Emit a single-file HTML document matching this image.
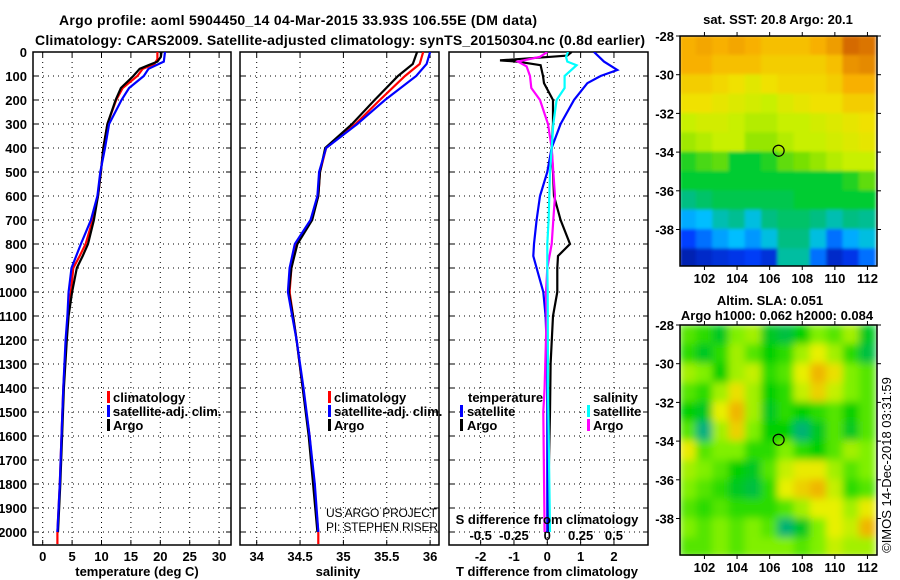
<!DOCTYPE html>
<html><head><meta charset="utf-8"><style>
html,body{margin:0;padding:0;background:#fff;}
svg{display:block;font-family:"Liberation Sans",sans-serif;}
.b{font-weight:bold;font-size:13px;}
.t{font-weight:bold;font-size:14px;}
</style></head><body>
<svg id="fig" width="900" height="580" viewBox="0 0 900 580">
<defs>
<clipPath id="cp1"><rect x="33" y="52" width="198" height="493"/></clipPath>
<clipPath id="cp2"><rect x="240" y="52" width="199" height="493"/></clipPath>
<clipPath id="cp3"><rect x="449" y="52" width="199" height="493"/></clipPath>
<clipPath id="cpm1"><rect x="680" y="36" width="197" height="230"/></clipPath>
<clipPath id="cpm2"><rect x="680" y="325" width="197" height="231"/></clipPath>
<filter id="blur" x="0" y="0" width="1" height="1"><feGaussianBlur stdDeviation="4" edgeMode="duplicate"/></filter>
<filter id="blur2" x="0" y="0" width="1" height="1"><feGaussianBlur stdDeviation="1.5" edgeMode="duplicate"/></filter>
</defs>
<text class="t" x="298" y="25" text-anchor="middle" textLength="478">Argo profile: aoml 5904450_14 04-Mar-2015 33.93S 106.55E (DM data)</text>
<text class="t" x="340" y="45" text-anchor="middle" textLength="610">Climatology: CARS2009. Satellite-adjusted climatology: synTS_20150304.nc (0.8d earlier)</text>
<g id="g1"></g>
<g id="g2"></g>
<g id="g3"></g>
<g id="m1"></g>
<g id="m2"></g>

<text class="b" x="137" y="576" text-anchor="middle">temperature (deg C)</text>
<text class="b" x="338" y="576" text-anchor="middle">salinity</text>
<text class="b" x="547" y="576" text-anchor="middle">T difference from climatology</text>
<text class="b" x="547" y="524" text-anchor="middle">S difference from climatology</text>

<g>
<rect x="107" y="391" width="3" height="12" fill="#f00"/><text class="b" x="113" y="402">climatology</text>
<rect x="107" y="405" width="3" height="12" fill="#00f"/><text class="b" x="113" y="416">satellite-adj. clim.</text>
<rect x="107" y="419" width="3" height="12" fill="#000"/><text class="b" x="113" y="430">Argo</text>
</g>
<g>
<rect x="328" y="391" width="3" height="12" fill="#f00"/><text class="b" x="334" y="402">climatology</text>
<rect x="328" y="405" width="3" height="12" fill="#00f"/><text class="b" x="334" y="416">satellite-adj. clim.</text>
<rect x="328" y="419" width="3" height="12" fill="#000"/><text class="b" x="334" y="430">Argo</text>
</g>
<g font-size="12">
<text x="326" y="517" textLength="111">US ARGO PROJECT</text><text x="326" y="531" textLength="112">PI: STEPHEN RISER</text>
</g>
<g>
<text class="b" x="468" y="402">temperature</text>
<rect x="460" y="405" width="3" height="12" fill="#00f"/><text class="b" x="467" y="416">satellite</text>
<rect x="460" y="419" width="3" height="12" fill="#000"/><text class="b" x="467" y="430">Argo</text>
<text class="b" x="593" y="402">salinity</text>
<rect x="587" y="405" width="3" height="12" fill="#0ff"/><text class="b" x="593" y="416">satellite</text>
<rect x="587" y="419" width="3" height="12" fill="#f0f"/><text class="b" x="593" y="430">Argo</text>
</g>
<text class="b" x="778" y="24" text-anchor="middle">sat. SST: 20.8 Argo: 20.1</text>
<text class="b" x="770" y="305" text-anchor="middle">Altim. SLA: 0.051</text>
<text class="b" x="777" y="320" text-anchor="middle">Argo h1000: 0.062 h2000: 0.084</text>
<text x="0" y="0" font-size="13" text-anchor="middle" transform="translate(891,465) rotate(-90)">©IMOS 14-Dec-2018 03:31:59</text>
</svg>
<script>
const NS='http://www.w3.org/2000/svg';
// ---- data ----
const depthTicks=[0,100,200,300,400,500,600,700,800,900,1000,1100,1200,1300,1400,1500,1600,1700,1800,1900,2000];
const tempTicks=[0,5,10,15,20,25,30];
const salTicks=[34,34.5,35,35.5,36];
const salTickLabels=['34','34.5','35','35.5','36'];
const tdiffTicks=[-2,-1,0,1,2];
const sdiffTicks=[-0.5,-0.25,0,0.25,0.5];
const sdiffTickLabels=['-0.5','-0.25','0','0.25','0.5'];

const tArgoDepth=[0,20,40,55,70,100,150,200,300,400,500,600,700,800,850,900,1000,1100,1200,1400,1600,1800,2000];
const tArgo=[20.2,20.1,19.5,18,16.5,15.4,13.3,12.4,11,10.3,9.9,9.4,8.7,7.7,6.8,5.8,5.0,4.4,4.1,3.6,3.3,3.0,2.6];
const tClimDepth=[0,30,50,70,100,150,200,300,400,500,600,700,800,850,900,1000,1100,1200,1400,1600,1800,2000,2050];
const tClim=[19.5,19.5,19.0,17,16.1,13.6,12.5,11,10.3,9.9,9.4,8.5,7.3,6.3,5.2,4.8,4.3,4.0,3.5,3.2,2.9,2.5,2.5];
const tSatDepth=[0,40,70,100,150,200,300,400,500,600,700,800,900,1000,1100,1200,1400,1600,1800,2000];
const tSat=[20.8,20.6,18,17.2,14.7,13.4,11.3,10.6,9.8,9.3,8.2,6.5,4.9,4.4,4.2,3.9,3.5,3.2,2.9,2.5];

const sArgoDepth=[0,50,100,200,300,400,500,600,700,800,900,1000,1100,1200,1400,1600,1800,2000];
const sArgo=[35.85,35.8,35.63,35.36,35.1,34.79,34.73,34.71,34.64,34.47,34.4,34.37,34.42,34.46,34.53,34.6,34.65,34.7];
const sClimDepth=[0,50,100,200,300,400,500,600,700,800,900,1000,1100,1200,1400,1600,1800,2000,2050];
const sClim=[35.92,35.88,35.71,35.42,35.14,34.8,34.73,34.71,34.63,34.46,34.4,34.38,34.42,34.46,34.53,34.61,34.66,34.71,34.71];
const sSatDepth=[0,50,100,200,300,400,500,600,700,800,900,1000,1100,1200,1400,1600,1800,2000];
const sSat=[36.0,35.96,35.84,35.48,35.16,34.8,34.72,34.7,34.62,34.44,34.38,34.36,34.41,34.46,34.54,34.61,34.67,34.71];

const dDepthSatT=[0,40,75,100,130,200,300,400,500,600,700,800,850,900,1000,1100,1300,1600,2000];
const dSatT=[1.4,1.7,2.1,1.6,1.2,0.8,0.4,0.13,0,-0.22,-0.32,-0.4,-0.42,-0.32,-0.12,-0.05,0,0,0];
const dDepthArgoT=[0,15,20,35,40,55,100,130,200,300,400,500,600,700,800,850,900,1000,1100,1300,1500,1700,2000];
const dArgoT=[0.73,0.6,0.1,-1.42,-0.9,-0.2,-0.13,-0.1,0.17,0.17,0.13,0.17,0.2,0.4,0.68,0.32,0.3,0.3,0.17,0.1,0.08,0.05,0.02];
const dDepthArgoS=[0,20,40,60,100,150,200,300,400,500,600,700,800,900,1000,1100,1400,1500,2000];
const dArgoS=[0,-0.055,-0.22,-0.155,-0.13,-0.12,-0.055,0.005,0.033,0.045,0.058,0.045,0.033,0,-0.01,-0.005,-0.02,-0.03,-0.02];
const dDepthSatS=[0,20,40,55,100,150,200,300,400,500,600,700,800,900,1000,1400,2000];
const dSatS=[0.155,0.14,0.15,0.22,0.13,0.13,0.07,0.045,0.033,0.02,0.015,0.01,0,0,0.003,0.005,0.02];

const mapLatTicks=[-28,-30,-32,-34,-36,-38];
const mapLonTicks=[102,104,106,108,110,112];
const sstGrid=[
[0.78,0.8,0.78,0.8,0.78,0.75,0.75,0.75,0.78,0.82,0.92,0.9],
[0.78,0.78,0.75,0.75,0.75,0.72,0.72,0.72,0.72,0.75,0.84,0.86],
[0.72,0.72,0.7,0.68,0.65,0.68,0.7,0.7,0.7,0.72,0.78,0.78],
[0.68,0.68,0.66,0.64,0.62,0.6,0.64,0.66,0.68,0.68,0.72,0.72],
[0.6,0.62,0.62,0.6,0.58,0.58,0.6,0.6,0.62,0.64,0.66,0.68],
[0.56,0.58,0.6,0.6,0.55,0.55,0.58,0.6,0.6,0.62,0.64,0.66],
[0.45,0.48,0.5,0.42,0.42,0.45,0.5,0.52,0.55,0.58,0.6,0.6],
[0.42,0.42,0.42,0.42,0.42,0.42,0.42,0.42,0.42,0.42,0.45,0.5],
[0.36,0.38,0.4,0.4,0.4,0.4,0.4,0.42,0.42,0.42,0.42,0.42],
[0.26,0.28,0.33,0.35,0.3,0.36,0.38,0.38,0.36,0.33,0.36,0.35],
[0.15,0.2,0.25,0.28,0.24,0.3,0.36,0.36,0.3,0.2,0.26,0.3],
[0.05,0.08,0.1,0.12,0.14,0.1,0.34,0.34,0.2,0.08,0.12,0.2]];
const slaGrid=[
[.5,.45,.35,.55,.6,.35,.3,.4,.55,.5,.6,.35],
[.45,.35,.45,.6,.5,.4,.45,.6,.7,.6,.45,.3],
[.6,.55,.4,.6,.65,.45,.5,.7,.88,.75,.55,.5],
[.5,.45,.6,.75,.6,.4,.45,.65,.8,.65,.55,.5],
[.4,.35,.7,.88,.6,.35,.45,.4,.45,.5,.4,.5],
[.5,.2,.6,.8,.55,.4,.4,.22,.35,.5,.35,.5],
[.72,.5,.55,.55,.45,.45,.55,.45,.4,.5,.6,.55],
[.6,.55,.5,.4,.35,.5,.65,.72,.72,.6,.5,.55],
[.55,.5,.45,.35,.3,.45,.7,.8,.88,.65,.45,.5],
[.5,.45,.5,.45,.45,.45,.5,.6,.7,.7,.6,.72],
[.55,.5,.55,.5,.55,.5,.22,.35,.55,.7,.65,.88],
[.5,.5,.55,.5,.55,.55,.55,.5,.55,.65,.6,.6]];
const argoLon=106.55, argoLat=-33.93;

// ---- helpers ----
function mk(tag,attrs,parent){const e=document.createElementNS(NS,tag);for(const k in attrs)e.setAttribute(k,attrs[k]);parent.appendChild(e);return e;}
const Y0=52, PXM=0.24;
const yD=d=>Y0+d*PXM;
const xT=v=>42.7+5.88*v;
const xS=v=>256.7+86.7*(v-34);
const xDT=v=>547.3+33.33*v;
const xDS=v=>547.3+133.3*v;

function panel(g,x0,x1,xs,ticks,labels,clip,showDepth){
  for(const d of depthTicks){if(d===0)continue;
    const l=mk('line',{x1:x0,x2:x1,y1:yD(d),y2:yD(d),stroke:'#000','stroke-dasharray':'1,4','stroke-width':1},g);
    
    mk('line',{x1:x0,x2:x0+5,y1:yD(d),y2:yD(d),stroke:'#000'},g);
    mk('line',{x1:x1-5,x2:x1,y1:yD(d),y2:yD(d),stroke:'#000'},g);
  }
  ticks.forEach((t,i)=>{const x=xs(t);
    const l=mk('line',{x1:x,x2:x,y1:Y0,y2:545,stroke:'#000','stroke-dasharray':'1,4'},g);
    
    mk('line',{x1:x,x2:x,y1:Y0,y2:Y0+5,stroke:'#000'},g);
    mk('line',{x1:x,x2:x,y1:540,y2:545,stroke:'#000'},g);
    const tx=mk('text',{x:x,y:561,'text-anchor':'middle',class:'b'},g);tx.textContent=labels[i];
    
  });
  if(showDepth){for(const d of depthTicks){const tx=mk('text',{x:27,y:yD(d)+5,'text-anchor':'end',class:'b'},g);tx.textContent=d;
    }}
  const fr=mk('rect',{x:x0,y:Y0,width:x1-x0,height:545-Y0,fill:'none',stroke:'#000','stroke-width':1.5},g);
  
}
function line(g,xs,vals,deps,color,clip,name){
  const pts=vals.map((v,i)=>xs(v).toFixed(1)+','+yD(deps[i]).toFixed(1)).join(' ');
  const p=mk('polyline',{points:pts,fill:'none',stroke:color,'stroke-width':2.2,'clip-path':'url(#'+clip+')'},g);
  
  
}
const g1=document.getElementById('g1'),g2=document.getElementById('g2'),g3=document.getElementById('g3');
panel(g1,33,231,xT,tempTicks,tempTicks.map(String),'cp1',true);
line(g1,xT,tClim,tClimDepth,'#f00','cp1','temp-climatology-line');
line(g1,xT,tArgo,tArgoDepth,'#000','cp1','temp-argo-line');
line(g1,xT,tSat,tSatDepth,'#00f','cp1','temp-satellite-line');
panel(g2,240,439,xS,salTicks,salTickLabels,'cp2',false);
line(g2,xS,sClim,sClimDepth,'#f00','cp2','sal-climatology-line');
line(g2,xS,sArgo,sArgoDepth,'#000','cp2','sal-argo-line');
line(g2,xS,sSat,sSatDepth,'#00f','cp2','sal-satellite-line');
panel(g3,449,648,xDT,tdiffTicks,tdiffTicks.map(String),'cp3',false);
sdiffTicks.forEach((t,i)=>{const tx=mk('text',{x:xDS(t),y:540,'text-anchor':'middle',class:'b'},g3);tx.textContent=sdiffTickLabels[i];
  });
line(g3,xDT,dArgoT,dDepthArgoT,'#000','cp3','tdiff-argo-line');
line(g3,xDT,dSatT,dDepthSatT,'#00f','cp3','tdiff-satellite-line');
line(g3,xDS,dArgoS,dDepthArgoS,'#f0f','cp3','sdiff-argo-line');
line(g3,xDS,dSatS,dDepthSatS,'#0ff','cp3','sdiff-satellite-line');

// ---- maps ----
function lerpCol(stops,v){v=Math.max(0,Math.min(1,v));for(let i=1;i<stops.length;i++){if(v<=stops[i][0]){const a=stops[i-1],b=stops[i];const f=(v-a[0])/(b[0]-a[0]);
  const c=a[1].map((x,k)=>Math.round(x+(b[1][k]-x)*f));return 'rgb('+c.join(',')+')';}}return 'rgb('+stops[stops.length-1][1].join(',')+')';}
const sstStops=[[0,[0,16,140]],[0.15,[0,64,255]],[0.28,[0,190,255]],[0.36,[0,190,130]],[0.42,[0,204,50]],[0.52,[120,224,0]],[0.6,[200,240,0]],[0.68,[240,225,0]],[0.78,[248,176,0]],[0.88,[224,128,0]],[1,[192,64,0]]];
const slaStops=[[0,[0,160,150]],[0.2,[0,176,128]],[0.4,[0,208,0]],[0.55,[128,240,0]],[0.7,[232,240,0]],[0.9,[240,176,0]],[1,[230,140,0]]];
function map(id,top,grid,stops,clip,filt){
  const g=document.getElementById(id);
  const xL=lo=>680+(lo-100.5)*16.3, yL=la=>top+(-28-la)*19.35;
  const cg=mk('g',{'clip-path':'url(#'+clip+')'},g);
  const hg=mk('g',{filter:'url(#'+filt+')'},cg);
  grid.forEach((row,r)=>row.forEach((v,c)=>{
    const cell=mk('rect',{x:xL(100.5+c)-0.5,y:yL(-28-r)-0.5,width:17.3,height:20.4,fill:lerpCol(stops,v)},hg);
    
    
  }));
  mk('rect',{x:680,y:top,width:197,height:230,fill:'none',stroke:'#000','stroke-width':1.5},g);
  mapLatTicks.forEach(la=>{const y=yL(la);mk('line',{x1:680,x2:676,y1:y,y2:y,stroke:'#000'},g);mk('line',{x1:877,x2:881,y1:y,y2:y,stroke:'#000'},g);
    const tx=mk('text',{x:674,y:y+5,'text-anchor':'end',class:'b'},g);tx.textContent=la;
    });
  mapLonTicks.forEach(lo=>{const x=xL(lo);mk('line',{x1:x,x2:x,y1:top,y2:top-4,stroke:'#000'},g);mk('line',{x1:x,x2:x,y1:top+230,y2:top+234,stroke:'#000'},g);
    const tx=mk('text',{x:x,y:top+247,'text-anchor':'middle',class:'b'},g);tx.textContent=lo;
    });
  const m=mk('circle',{cx:xL(argoLon),cy:yL(argoLat),r:5.5,fill:'none',stroke:'#000','stroke-width':1.2},g);
  
  
}
map('m1',36,sstGrid,sstStops,'cpm1','blur2');
map('m2',325,slaGrid,slaStops,'cpm2','blur');
</script>
</body></html>
